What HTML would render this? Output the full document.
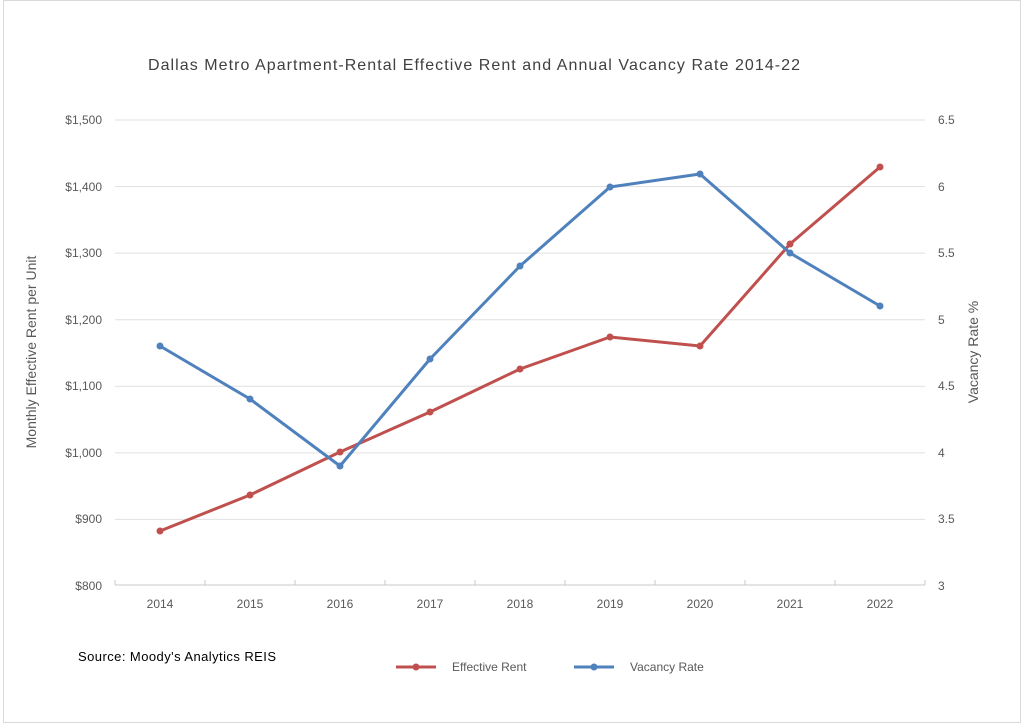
<!DOCTYPE html>
<html><head><style>body{margin:0;background:#fff}svg{display:block}</style></head><body>
<svg width="1024" height="724" xmlns="http://www.w3.org/2000/svg" font-family="Liberation Sans, sans-serif">
<rect x="3.5" y="0.5" width="1017" height="722" fill="#fff" stroke="#d9d9d9"/>
<text x="148" y="70" font-size="16" fill="#404040" textLength="652" lengthAdjust="spacing">Dallas Metro Apartment-Rental Effective Rent and Annual Vacancy Rate 2014-22</text>
<g stroke="#e0e0e0" stroke-width="1">
<line x1="115" x2="925" y1="120" y2="120"/><line x1="115" x2="925" y1="186.6" y2="186.6"/>
<line x1="115" x2="925" y1="253.1" y2="253.1"/><line x1="115" x2="925" y1="319.7" y2="319.7"/>
<line x1="115" x2="925" y1="386.3" y2="386.3"/><line x1="115" x2="925" y1="452.9" y2="452.9"/>
<line x1="115" x2="925" y1="519.4" y2="519.4"/>
</g>
<g stroke="#c8c8c8"><line x1="115" x2="925" y1="585" y2="585"/>
<line x1="115" x2="115" y1="580" y2="585"/><line x1="205" x2="205" y1="580" y2="585"/><line x1="295" x2="295" y1="580" y2="585"/><line x1="385" x2="385" y1="580" y2="585"/><line x1="475" x2="475" y1="580" y2="585"/><line x1="565" x2="565" y1="580" y2="585"/><line x1="655" x2="655" y1="580" y2="585"/><line x1="745" x2="745" y1="580" y2="585"/><line x1="835" x2="835" y1="580" y2="585"/><line x1="925" x2="925" y1="580" y2="585"/></g>
<g font-size="12" fill="#595959" text-anchor="end">
<text x="102" y="124">$1,500</text><text x="102" y="191">$1,400</text><text x="102" y="257">$1,300</text><text x="102" y="324">$1,200</text><text x="102" y="390">$1,100</text><text x="102" y="457">$1,000</text><text x="102" y="523">$900</text><text x="102" y="590">$800</text>
</g>
<g font-size="12" fill="#595959">
<text x="938" y="124">6.5</text><text x="938" y="191">6</text><text x="938" y="257">5.5</text><text x="938" y="324">5</text><text x="938" y="390">4.5</text><text x="938" y="457">4</text><text x="938" y="523">3.5</text><text x="938" y="590">3</text>
</g>
<g font-size="12" fill="#595959" text-anchor="middle">
<text x="160" y="608">2014</text><text x="250" y="608">2015</text><text x="340" y="608">2016</text><text x="430" y="608">2017</text><text x="520" y="608">2018</text><text x="610" y="608">2019</text><text x="700" y="608">2020</text><text x="790" y="608">2021</text><text x="880" y="608">2022</text>
</g>
<text transform="translate(36,352) rotate(-90)" text-anchor="middle" font-size="14" fill="#595959">Monthly Effective Rent per Unit</text>
<text transform="translate(978,352) rotate(-90)" text-anchor="middle" font-size="14" fill="#595959">Vacancy Rate %</text>
<polyline fill="none" stroke="#c0504d" stroke-width="3" stroke-linejoin="round" points="160,531 250,495 340,452 430,412 520,369 610,337 700,346 790,244 880,167"/>
<g fill="#c0504d"><circle cx="160" cy="531" r="3.5"/><circle cx="250" cy="495" r="3.5"/><circle cx="340" cy="452" r="3.5"/><circle cx="430" cy="412" r="3.5"/><circle cx="520" cy="369" r="3.5"/><circle cx="610" cy="337" r="3.5"/><circle cx="700" cy="346" r="3.5"/><circle cx="790" cy="244" r="3.5"/><circle cx="880" cy="167" r="3.5"/></g>
<polyline fill="none" stroke="#4f81bd" stroke-width="3" stroke-linejoin="round" points="160,346 250,399 340,466 430,359 520,266 610,187 700,174 790,253 880,306"/>
<g fill="#4f81bd"><circle cx="160" cy="346" r="3.5"/><circle cx="250" cy="399" r="3.5"/><circle cx="340" cy="466" r="3.5"/><circle cx="430" cy="359" r="3.5"/><circle cx="520" cy="266" r="3.5"/><circle cx="610" cy="187" r="3.5"/><circle cx="700" cy="174" r="3.5"/><circle cx="790" cy="253" r="3.5"/><circle cx="880" cy="306" r="3.5"/></g>
<text x="78" y="661" font-size="13" fill="#000" textLength="198" lengthAdjust="spacing">Source: Moody's Analytics REIS</text>
<line x1="396" x2="436" y1="667" y2="667" stroke="#c0504d" stroke-width="3"/><circle cx="416" cy="667" r="3.5" fill="#c0504d"/>
<text x="452" y="671" font-size="12" fill="#595959">Effective Rent</text>
<line x1="574" x2="614" y1="667" y2="667" stroke="#4f81bd" stroke-width="3"/><circle cx="594" cy="667" r="3.5" fill="#4f81bd"/>
<text x="630" y="671" font-size="12" fill="#595959">Vacancy Rate</text>
</svg>
</body></html>
